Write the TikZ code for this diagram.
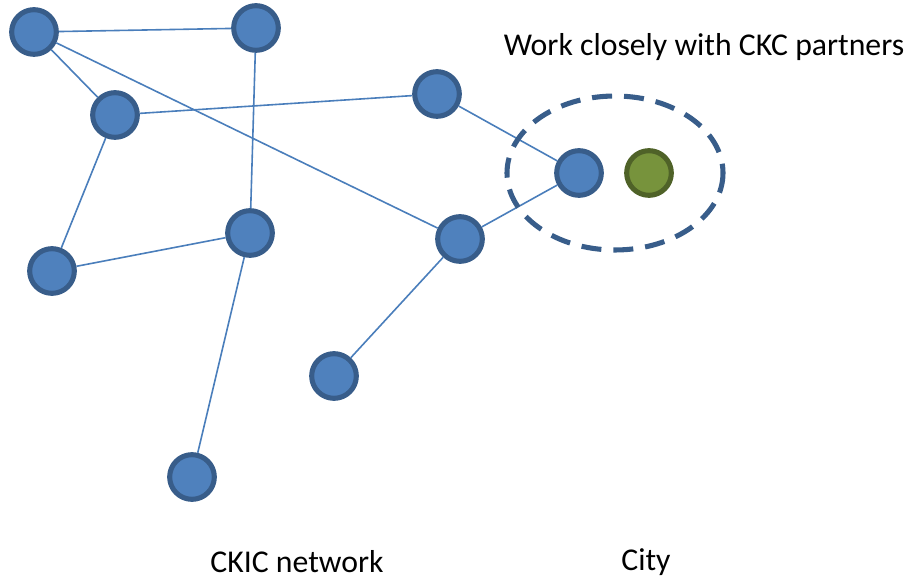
\documentclass[tikz,border=0pt]{standalone}
\usepackage{fontspec}
\setmainfont{Carlito}
\definecolor{nodefill}{HTML}{4F81BD}
\definecolor{nodeline}{HTML}{385D8A}
\definecolor{cityfill}{HTML}{77933C}
\definecolor{cityline}{HTML}{4F6228}
\definecolor{linkline}{HTML}{4A7EBB}

\begin{document}
\begin{tikzpicture}[x=0.75pt,y=-0.75pt,
    member/.style={circle,draw=nodeline,fill=nodefill,line width=3.8pt,
	minimum size=33.5pt,inner sep=0pt},
    city/.style={member,draw=cityline,fill=cityfill},
    link/.style={draw=linkline,line width=1.2pt},
    label/.style={font=\fontsize{23.8}{28}\selectfont}]
\useasboundingbox (0,0) rectangle (910,580);
\node (n1)  [member] at (34,32)   {};
\node (n2)  [member] at (256,28)  {};
\node (n3)  [member] at (115,115) {};
\node (n4)  [member] at (437,94)  {};
\node (n5)  [member] at (579,173) {};
\node (c1)  [city]   at (649,173) {};
\node (n7)  [member] at (250,233) {};
\node (n8)  [member] at (460,239) {};
\node (n9)  [member] at (52,271)  {};
\node (n10) [member] at (334,376) {};
\node (n11) [member] at (192,477) {};
\path [link]
    (n1) edge (n2)
    (n1) edge (n3)
    (n1) edge (n8)
    (n2) edge (n7)
    (n3) edge (n4)
    (n3) edge (n9)
    (n4) edge (n5)
    (n8) edge (n5)
    (n9) edge (n7)
    (n7) edge (n11)
    (n8) edge (n10);
\draw [nodeline,line width=3.8pt,dash pattern=on 15pt off 9pt]
    (615,173) ellipse [x radius=108,y radius=77];
\node (partners) [label] at (704,47)  {Work closely with CKC partners};
\node (network)  [label] at (297,562) {CKIC network};
\node (cityname) [label] at (646,562) {City};
\end{tikzpicture}
\end{document}
